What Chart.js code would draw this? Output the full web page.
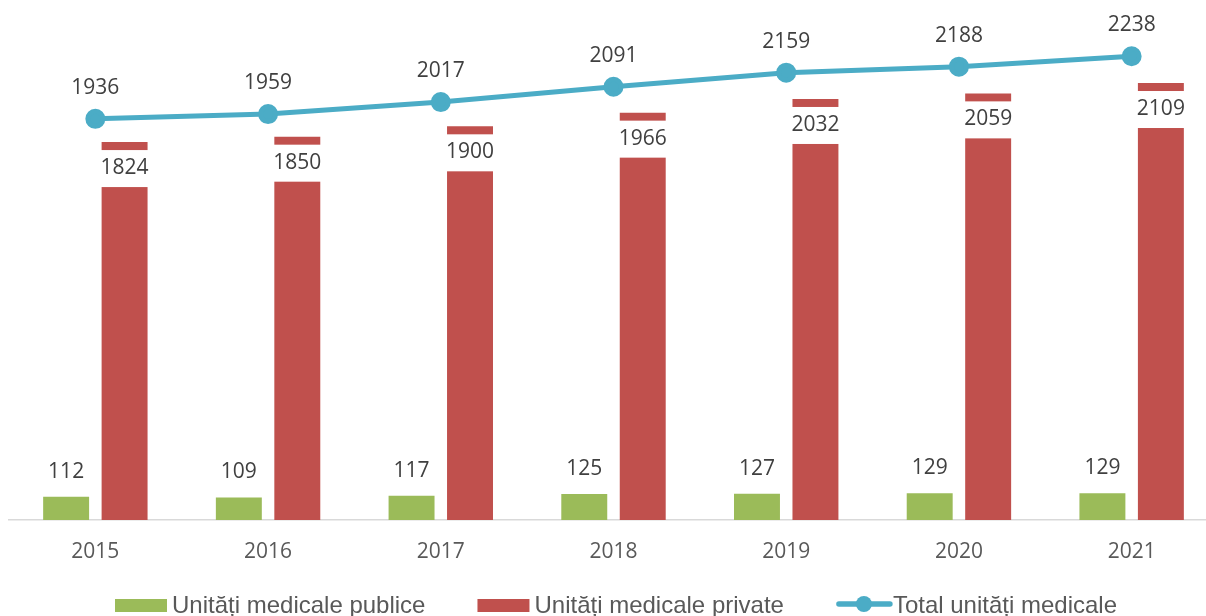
<!DOCTYPE html>
<html>
<head>
<meta charset="utf-8">
<script src="https://cdn.jsdelivr.net/npm/chart.js@4.4.1/dist/chart.umd.min.js"></script>
<style>
  html, body { margin: 0; padding: 0; background: #fff; overflow: hidden; }
</style>
</head>
<body>
<canvas id="chart" width="1220" height="616"></canvas>
<script>
const years = ["2015", "2016", "2017", "2018", "2019", "2020", "2021"];
const publice = [112, 109, 117, 125, 127, 129, 129];
const privat = [1824, 1850, 1900, 1966, 2032, 2059, 2109];
const total = [1936, 1959, 2017, 2091, 2159, 2188, 2238];

const GREEN = "#9BBB59";
const RED = "#C0504D";
const BLUE = "#4BACC6";
const LABEL_FONT = "21px 'Open Sans'";

// value labels: above green bars, inside the top of red bars on a white box, above line points
const valueLabels = {
  id: "valueLabels",
  afterDatasetsDraw(chart) {
    const ctx = chart.ctx;
    ctx.save();
    ctx.font = LABEL_FONT;
    ctx.textAlign = "center";
    ctx.textBaseline = "middle";
    chart.data.datasets.forEach((ds, i) => {
      const meta = chart.getDatasetMeta(i);
      meta.data.forEach((el, j) => {
        const v = ds.data[j];
        if (ds.type === "line") {
          ctx.fillStyle = "#404040";
          ctx.fillText(String(v), el.x, el.y - 31);
        } else if (i === 1) {
          const w = el.width + 2;
          ctx.fillStyle = "#fff";
          ctx.fillRect(el.x - w / 2, el.y + 8, w, 37);
          ctx.fillStyle = "#404040";
          ctx.fillText(String(v), el.x, el.y + 26);
        } else {
          ctx.fillStyle = "#404040";
          ctx.fillText(String(v), el.x, el.y - 25);
        }
      });
    });
    ctx.restore();
  },
};

// legend row along the bottom edge
const bottomLegend = {
  id: "bottomLegend",
  afterDraw(chart) {
    const ctx = chart.ctx;
    ctx.save();
    ctx.font = "24px 'Liberation Sans', Arial, sans-serif";
    ctx.textBaseline = "middle";
    const y = 605;
    let x = 115;
    chart.data.datasets.forEach((ds) => {
      if (ds.type === "line") {
        ctx.strokeStyle = BLUE;
        ctx.lineWidth = 5.5;
        ctx.lineCap = "round";
        ctx.beginPath();
        ctx.moveTo(x + 3, y - 1);
        ctx.lineTo(x + 54, y - 1);
        ctx.stroke();
        ctx.fillStyle = BLUE;
        ctx.beginPath();
        ctx.arc(x + 28, y - 1, 8, 0, Math.PI * 2);
        ctx.fill();
      } else {
        ctx.fillStyle = ds.backgroundColor;
        ctx.fillRect(x, 599, 52, 13);
      }
      ctx.fillStyle = "#595959";
      ctx.fillText(ds.label, x + 57, y + 1);
      x += 57 + ctx.measureText(ds.label).width + 52;
    });
    ctx.restore();
  },
};

new Chart(document.getElementById("chart"), {
  data: {
    labels: years,
    datasets: [
      {
        type: "bar",
        label: "Unități medicale publice",
        data: publice,
        backgroundColor: GREEN,
        categoryPercentage: 0.677,
        barPercentage: 0.786,
        order: 2,
      },
      {
        type: "bar",
        label: "Unități medicale private",
        data: privat,
        backgroundColor: RED,
        categoryPercentage: 0.677,
        barPercentage: 0.786,
        order: 2,
      },
      {
        type: "line",
        label: "Total unități medicale",
        data: total,
        borderColor: BLUE,
        backgroundColor: BLUE,
        borderWidth: 5,
        pointRadius: 7.5,
        pointHoverRadius: 7.5,
        tension: 0,
        clip: false,
        order: 1,
      },
    ],
  },
  options: {
    responsive: false,
    animation: false,
    layout: { autoPadding: false, padding: { top: 2, left: 9, right: 2, bottom: 0 } },
    plugins: { legend: { display: false }, tooltip: { enabled: false } },
    scales: {
      x: {
        grid: { display: false, drawTicks: false },
        border: { display: true, color: "#D9D9D9", width: 1.5 },
        ticks: { color: "#595959", font: { family: "'Open Sans'", size: 21 }, padding: 19 },
        afterFit: (s) => { s.height = 96; },
      },
      y: {
        display: false,
        min: 0,
        max: 2500,
      },
    },
  },
  plugins: [valueLabels, bottomLegend],
});
</script>
</body>
</html>
